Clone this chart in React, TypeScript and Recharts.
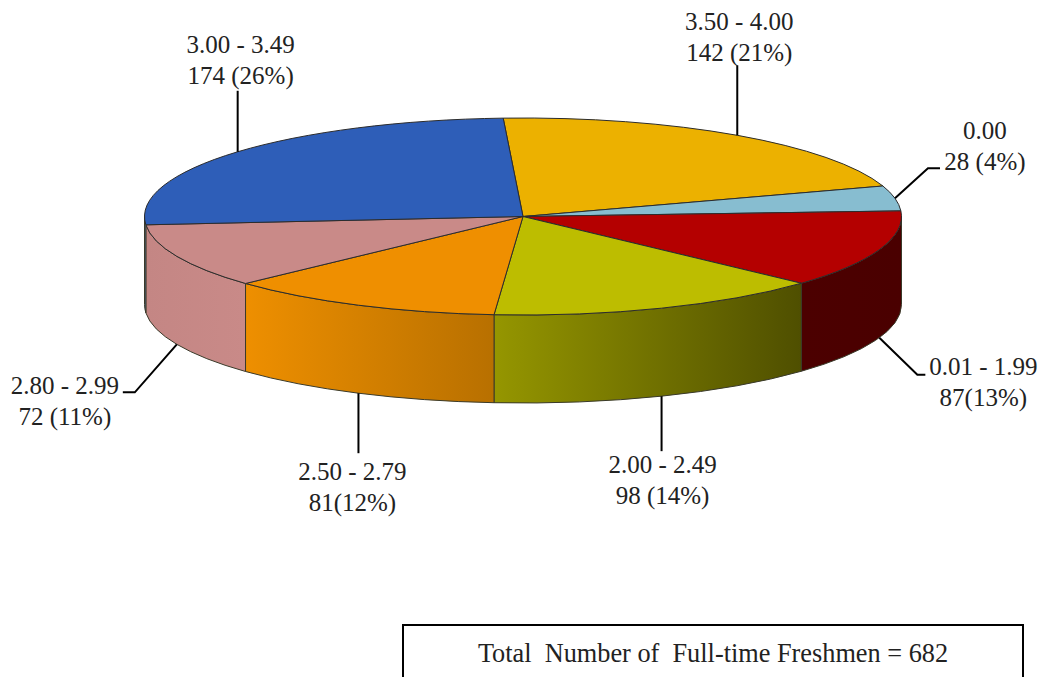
import { PieChart, Pie } from 'recharts';

const ranges = ['3.50 - 4.00', '0.00', '0.01 - 1.99', '2.00 - 2.49', '2.50 - 2.79', '2.80 - 2.99', '3.00 - 3.49'];
const counts = [142, 28, 87, 98, 81, 72, 174];
const countLabels = ['142 (21%)', '28 (4%)', '87(13%)', '98 (14%)', '81(12%)', '72 (11%)', '174 (26%)'];
const totalLabel = 'Total  Number of  Full-time Freshmen = 682';

const topColors = ['#ecb100', '#87bdd0', '#b40000', '#bdbd00', '#ef8f00', '#c98a88', '#2e5eb8'];
const wallLeftColors = ['#ecb100', '#87bdd0', '#4c0000', '#959600', '#ee8f00', '#c48684', '#4f6fa8'];
const wallRightColors = ['#ecb100', '#87bdd0', '#4a0000', '#4f4f00', '#b87000', '#c98a88', '#4f6fa8'];

// leader bends and text centre, relative to where the leader leaves the pie
const leaderLayout = [
  { bends: [[0, -70]], textDx: 2, textDy: -105 },
  { bends: [[33, -30], [45, -30]], textDx: 90, textDy: -59 },
  { bends: [[38, 37], [46, 37]], textDx: 104, textDy: 37 },
  { bends: [[0, 55]], textDx: 1, textDy: 77 },
  { bends: [[0, 60]], textDx: -6, textDy: 87 },
  { bends: [[-42, 48], [-54, 48]], textDx: -112, textDy: 50 },
  { bends: [[0, -61]], textDx: 3, textDy: -99 },
];

const CX = 523;
const CY = 216.5;
const RX = 378.5;
const SQUASH = 98.5 / 378.5;
const DEPTH = 88;
const FONT = '"Liberation Serif", serif';
const FONT_SIZE = 25;
const LINE_HEIGHT = 31;

const tableData = ranges.map((name, i) => ({
  name,
  value: counts[i],
  fill: topColors[i],
  wallFrom: wallLeftColors[i],
  wallTo: wallRightColors[i],
}));

function rimPoint(cx: number, cy: number, r: number, deg: number) {
  const t = (deg * Math.PI) / 180;
  return { x: cx + r * Math.cos(t), y: cy - r * SQUASH * Math.sin(t) };
}

function Slice3D(props: any) {
  const { cx, cy, outerRadius: r, startAngle, endAngle, index } = props;
  const row = tableData[index] ?? props;
  const ry = r * SQUASH;
  const a = rimPoint(cx, cy, r, startAngle);
  const b = rimPoint(cx, cy, r, endAngle);
  const large = startAngle - endAngle > 180 ? 1 : 0;
  const top = `M${cx},${cy} L${a.x},${a.y} A${r},${ry} 0 ${large} 1 ${b.x},${b.y} Z`;

  // only the front half of the rim has a visible wall
  const wallStart = Math.min(startAngle, 0);
  const wallEnd = Math.max(endAngle, -180);
  let wall = null;
  if (wallStart > wallEnd) {
    const p = rimPoint(cx, cy, r, wallStart);
    const q = rimPoint(cx, cy, r, wallEnd);
    const d =
      `M${p.x},${p.y} A${r},${ry} 0 0 1 ${q.x},${q.y} L${q.x},${q.y + DEPTH} ` +
      `A${r},${ry} 0 0 0 ${p.x},${p.y + DEPTH} Z`;
    const id = `wall-${index}`;
    wall = (
      <>
        <defs>
          <linearGradient id={id} x1="0" y1="0" x2="1" y2="0">
            <stop offset="0%" stopColor={row.wallFrom} />
            <stop offset="100%" stopColor={row.wallTo} />
          </linearGradient>
        </defs>
        <path d={d} fill={`url(#${id})`} stroke="#3a3a2a" strokeWidth={1} />
      </>
    );
  }

  return (
    <g>
      {wall}
      <path d={top} fill={row.fill} stroke="#2c2c2c" strokeWidth={1} />
    </g>
  );
}

function SliceLabel(props: any) {
  const { cx, cy, outerRadius: r, midAngle, index } = props;
  const rim = rimPoint(cx, cy, r, midAngle);
  const x = rim.x;
  const y = rim.y + (Math.sin((midAngle * Math.PI) / 180) < 0 ? DEPTH : 0);
  const layout = leaderLayout[index];
  const pts = [[x, y], ...layout.bends.map(([dx, dy]) => [x + dx, y + dy])];
  const tx = x + layout.textDx;
  const ty = y + layout.textDy;
  return (
    <g>
      <polyline points={pts.map((p) => p.join(',')).join(' ')} fill="none" stroke="#000" strokeWidth={2} />
      <text x={tx} y={ty} textAnchor="middle" fontFamily={FONT} fontSize={FONT_SIZE} fill="#222">
        {ranges[index]}
      </text>
      <text x={tx} y={ty + LINE_HEIGHT} textAnchor="middle" fontFamily={FONT} fontSize={FONT_SIZE} fill="#222">
        {countLabels[index]}
      </text>
    </g>
  );
}

export default function App() {
  return (
    <div style={{ position: 'absolute', left: 0, top: 0, width: 1042, height: 677, overflow: 'hidden', background: '#fff' }}>
      <PieChart width={1042} height={677} margin={{ top: 0, right: 0, bottom: 0, left: 0 }}>
        <Pie
          data={tableData}
          dataKey="value"
          nameKey="name"
          cx={CX}
          cy={CY}
          innerRadius={0}
          outerRadius={RX}
          startAngle={93}
          endAngle={-267}
          paddingAngle={0}
          isAnimationActive={false}
          shape={Slice3D}
          label={SliceLabel}
          labelLine={false}
        />
      </PieChart>
      <div
        style={{
          position: 'absolute',
          left: 402,
          top: 624,
          width: 618,
          height: 80,
          border: '2px solid #000',
          fontFamily: FONT,
          fontSize: 26.3,
          color: '#222',
          textAlign: 'center',
          whiteSpace: 'pre',
          lineHeight: '56px',
        }}
      >
        {totalLabel}
      </div>
    </div>
  );
}
